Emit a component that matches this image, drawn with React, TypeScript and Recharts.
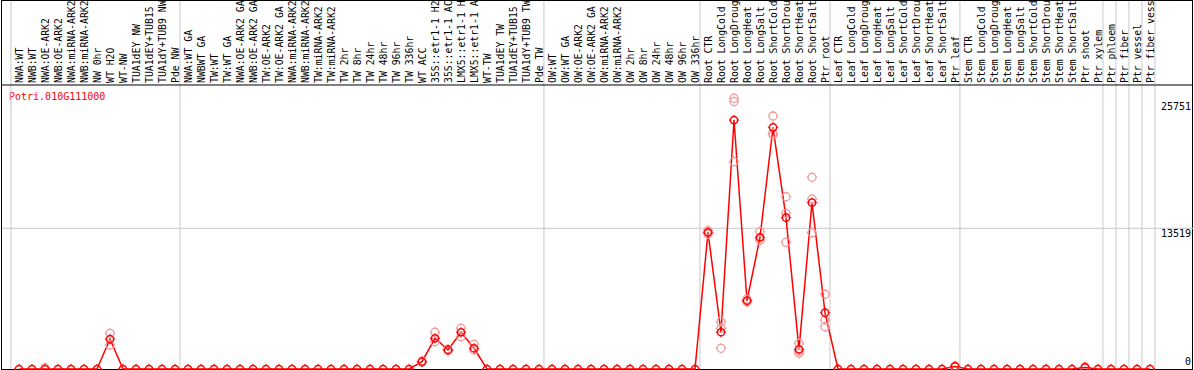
import React from 'react';
import { ComposedChart, Line, XAxis, YAxis, ReferenceLine, Customized } from 'recharts';

// sample labels as displayed in the header (cut to the visible 14 characters)
const sampleNames = [
  'NWA:WT', 'NWB:WT', 'NWA:OE-ARK2', 'NWB:OE-ARK2', 'NWA:miRNA-ARK2', 'NWB:miRNA-ARK2', 'NW 0hr',
  'WT H2O', 'WT-NW', 'TUA1dEY NW', 'TUA1dEY+TUB15', 'TUA1dY+TUB9 NW', 'Pde NW',
  'NWA:WT GA', 'NWBWT GA', 'TW:WT', 'TW:WT GA', 'NWA:OE-ARK2 GA', 'NWB:OE-ARK2 GA', 'TW:OE-ARK2',
  'TW:OE-ARK2 GA', 'NWA:miRNA-ARK2', 'NWB:miRNA-ARK2', 'TW:miRNA-ARK2', 'TW:miRNA-ARK2',
  'TW 2hr', 'TW 8hr', 'TW 24hr', 'TW 48hr', 'TW 96hr', 'TW 336hr', 'WT ACC', '35S::etr1-1 H2',
  '35S::etr1-1 AC', 'LMX5::etr1-1 H', 'LMX5::etr1-1 A', 'WT-TW', 'TUA1dEY TW', 'TUA1dEY+TUB15',
  'TUA1dY+TUB9 TW', 'Pde TW',
  'OW:WT', 'OW:WT GA', 'OW:OE-ARK2', 'OW:OE-ARK2 GA', 'OW:miRNA-ARK2', 'OW:miRNA-ARK2',
  'OW 2hr', 'OW 8hr', 'OW 24hr', 'OW 48hr', 'OW 96hr', 'OW 336hr',
  'Root CTR', 'Root LongCold', 'Root LongDroug', 'Root LongHeat', 'Root LongSalt', 'Root ShortCold',
  'Root ShortDrou', 'Root ShortHeat', 'Root ShortSalt', 'Ptr root',
  'Leaf CTR', 'Leaf LongCold', 'Leaf LongDroug', 'Leaf LongHeat', 'Leaf LongSalt', 'Leaf ShortCold',
  'Leaf ShortDrou', 'Leaf ShortHeat', 'Leaf ShortSalt', 'Ptr leaf',
  'Stem CTR', 'Stem LongCold', 'Stem LongDroug', 'Stem LongHeat', 'Stem LongSalt', 'Stem ShortCold',
  'Stem ShortDrou', 'Stem ShortHeat', 'Stem ShortSalt', 'Ptr shoot', 'Ptr xylem',
  'Ptr phloem', 'Ptr fiber', 'Ptr vessel', 'Ptr fiber vess',
];

const groupSizes = [13, 28, 12, 10, 10, 11, 1, 1, 1, 1];

const meanValues = [
  0, 0, 0, 0, 0, 0, 0, 2880, 0, 0, 0, 0, 0,
  0, 0, 0, 0, 0, 0, 0, 0, 0, 0, 0, 0, 0, 0, 0, 0, 0, 0, 700, 2950, 1830, 3530, 1990, 0, 0, 0, 0, 0,
  0, 0, 0, 0, 0, 0, 0, 0, 0, 0, 0, 0,
  13130, 3530, 23920, 6560, 12650, 23220, 14540, 1890, 15980, 5410,
  0, 0, 0, 0, 0, 0, 0, 0, 0, 250,
  0, 0, 0, 0, 0, 0, 0, 0, 0, 150, 0,
  0, 0, 0, 0,
];

const N = null;
const rep1 = [
  N, N, 120, N, N, N, N, 3430, N, N, N, N, N,
  N, N, N, N, N, N, N, N, N, N, N, N, N, N, N, N, N, N, 760, 3530, 1900, 3910, 2370, N, N, N, N, N,
  N, N, N, N, N, N, N, N, N, N, N, N,
  13300, 4545, 26010, 6700, 13190, 24310, 16550, 2470, 18420, 7180,
  N, N, N, N, N, N, N, N, N, 300,
  N, N, N, N, N, N, N, N, N, 220, N,
  N, N, N, N,
];
const rep2 = [
  N, N, N, N, N, N, N, 2310, N, N, N, N, N,
  N, N, N, N, N, N, N, N, N, N, N, N, N, N, N, N, N, N, 650, 2630, 1750, 3110, 1830, N, N, N, N, N,
  N, N, N, N, N, N, N, N, N, N, N, N,
  12950, 3910, 25700, 6450, 12390, 22650, 14960, 1510, 16330, 4710,
  N, N, N, N, N, N, N, N, N, 200,
  N, N, N, N, N, N, N, N, N, 100, N,
  N, N, N, N,
];
const rep3 = [
  N, N, N, N, N, N, N, N, N, N, N, N, N,
  N, N, N, N, N, N, N, N, N, N, N, N, N, N, N, N, N, N, N, N, N, N, N, N, N, N, N, N,
  N, N, N, N, N, N, N, N, N, N, N, N,
  N, 1990, 19920, N, 12400, 22480, 12170, 1700, 13100, 4060,
  N, N, N, N, N, N, N, N, N, N,
  N, N, N, N, N, N, N, N, N, N, N,
  N, N, N, N,
];

const geneId = 'Potri.010G111000';
const yTicks = [0, 13519, 25751];

const CHART_W = 1194;
const CHART_H = 370;
const FONT = "'DejaVu Sans Mono', 'Liberation Mono', monospace";
const RED = '#ff0000';
const PALE = '#f29a9a';
const GRID = '#c8c8c8';

const data = sampleNames.map((name, i) => ({
  idx: i + 1,
  name,
  mean: meanValues[i],
  r1: rep1[i],
  r2: rep2[i],
  r3: rep3[i],
}));

const separators: number[] = [];
{
  let acc = 0;
  separators.push(acc + 0.38);
  for (const g of groupSizes) {
    acc += g;
    separators.push(acc + 0.38);
  }
}

const markerPath = (cx: number, cy: number, r: number, t: number) =>
  `M${cx},${cy - r - t}V${cy - r}M${cx},${cy + r}V${cy + r + t}M${cx - r - t},${cy}H${cx - r}M${cx + r},${cy}H${cx + r + t}`;

const MeanDot = (props: any) => {
  const { cx, cy, value, index } = props;
  if (cx == null || cy == null || value == null) return <g key={`m${index}`} />;
  return (
    <g key={`m${index}`}>
      <circle cx={cx} cy={cy} r={3.6} fill="none" stroke={RED} strokeWidth={1.5} />
      <path d={markerPath(cx, cy, 3.6, 1.6)} stroke={RED} strokeWidth={1} />
    </g>
  );
};

const PaleDot = (props: any) => {
  const { cx, cy, value, index, dataKey } = props;
  if (cx == null || cy == null || value == null) return <g key={`${dataKey}${index}`} />;
  return (
    <g key={`${dataKey}${index}`}>
      <circle cx={cx} cy={cy} r={4} fill="none" stroke={PALE} strokeWidth={1.3} />
      <path d={markerPath(cx, cy, 4, 1.3)} stroke={PALE} strokeWidth={1} />
    </g>
  );
};

const renderNameTick = (props: any) => {
  const { x, payload, index } = props;
  const name = sampleNames[Math.round(payload.value) - 1];
  if (!name) return <g key={`n${index}`} />;
  return (
    <text
      key={`n${index}`}
      transform={`translate(${x + 3.5},83) rotate(-90)`}
      textAnchor="start"
      fontFamily={FONT}
      fontSize={9.8}
      fill="#000"
    >
      {name}
    </text>
  );
};

const renderValueTick = (props: any) => {
  const { y, payload, index } = props;
  const v = payload.value;
  return (
    <text
      key={`v${index}`}
      x={CHART_W - 3}
      y={v === 0 ? y - 4 : y + 9}
      textAnchor="end"
      fontFamily={FONT}
      fontSize={10}
      fill="#000"
    >
      {v}
    </text>
  );
};

const Title = () => (
  <text x={9} y={100} fill={RED} fontFamily={FONT} fontSize={10}>
    {geneId}
  </text>
);

// x: 13 px per sample, first sample at 19px; plot spans 2..1193
const X_MIN = 1 - 17 / 13;
const X_MAX = X_MIN + 1191 / 13;
// y: plot spans 1..369; value 0 at 369px, 13519 at ~228px
const Y_MAX = 35359;
const HEADER_VALUE = 27288;

export default function App() {
  return (
    <div style={{ position: 'relative', width: CHART_W, height: CHART_H, background: '#fff' }}>
      <style>{'body{margin:0;}'}</style>
      <div
        style={{
          position: 'absolute',
          left: 1,
          top: 0,
          width: 1192,
          height: 370,
          border: '1px solid #000',
          boxSizing: 'border-box',
        }}
      />
      <div style={{ position: 'absolute', left: 0, top: 0 }}>
        <ComposedChart
          width={CHART_W}
          height={CHART_H}
          data={data}
          margin={{ top: 0, right: 1, bottom: 1, left: 2 }}
        >
          <XAxis
            dataKey="idx"
            type="number"
            orientation="top"
            domain={[X_MIN, X_MAX]}
            ticks={data.map((d) => d.idx)}
            interval={0}
            height={1}
            axisLine={false}
            tickLine={false}
            tick={renderNameTick}
          />
          <YAxis
            type="number"
            orientation="right"
            mirror
            width={1}
            domain={[0, Y_MAX]}
            ticks={yTicks}
            interval={0}
            axisLine={false}
            tickLine={false}
            tick={renderValueTick}
          />
          {separators.map((s, i) => (
            <ReferenceLine key={`s${i}`} x={s} stroke={GRID} strokeWidth={1} />
          ))}
          <ReferenceLine y={13519} stroke={GRID} strokeWidth={1} />
          <ReferenceLine y={HEADER_VALUE} stroke="#000" strokeWidth={1} />
          <Line
            dataKey="mean"
            stroke={RED}
            strokeWidth={1.5}
            dot={false}
            activeDot={false}
            isAnimationActive={false}
          />
          <Line dataKey="r1" stroke="none" dot={PaleDot} activeDot={false} isAnimationActive={false} />
          <Line dataKey="r2" stroke="none" dot={PaleDot} activeDot={false} isAnimationActive={false} />
          <Line dataKey="r3" stroke="none" dot={PaleDot} activeDot={false} isAnimationActive={false} />
          <Line dataKey="mean" stroke="none" dot={MeanDot} activeDot={false} isAnimationActive={false} />
          <Customized component={Title} />
        </ComposedChart>
      </div>
    </div>
  );
}
